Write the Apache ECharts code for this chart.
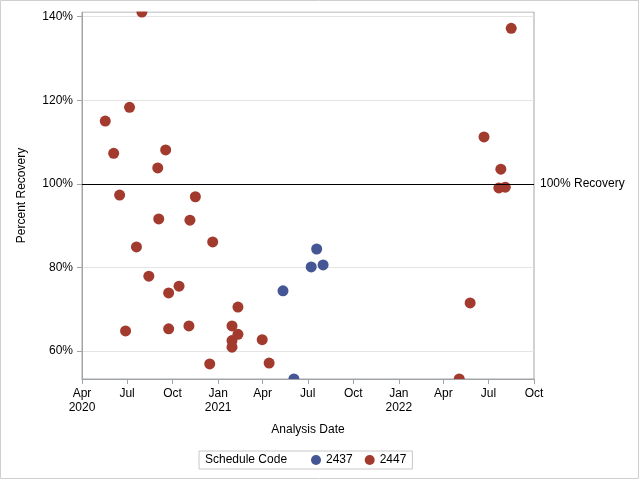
<!DOCTYPE html>
<html>
<head>
<meta charset="utf-8">
<script src="https://cdn.jsdelivr.net/npm/echarts@6/dist/echarts.min.js"></script>
<style>
  html, body { margin: 0; padding: 0; background: #fff; }
  #main { width: 640px; height: 480px; }
</style>
</head>
<body>
<div id="main"></div>
<script>
// schedule code 2437
var dates2437 = ['2021-05-12', '2021-06-03', '2021-07-08', '2021-07-19', '2021-08-01'];
var values2437 = [74.4, 53.3, 80.1, 84.4, 80.6];

// schedule code 2447
var dates2447 = [
  '2020-05-18', '2020-06-04', '2020-06-16', '2020-06-28', '2020-07-06', '2020-07-20',
  '2020-07-31', '2020-08-14', '2020-09-01', '2020-09-03', '2020-09-17', '2020-09-23',
  '2020-09-23', '2020-10-14', '2020-11-03', '2020-11-05', '2020-11-16', '2020-12-15',
  '2020-12-21', '2021-01-29', '2021-01-29', '2021-01-29', '2021-02-10', '2021-02-10',
  '2021-03-31', '2021-04-14', '2022-05-03', '2022-05-25', '2022-06-22', '2022-07-22',
  '2022-07-26', '2022-08-04', '2022-08-16'
];
var values2447 = [
  115.0, 107.3, 97.3, 64.8, 118.3, 84.9,
  141.1, 77.9, 103.8, 91.6, 108.1, 73.9,
  65.3, 75.5, 66.0, 91.3, 96.9, 56.9,
  86.1, 66.0, 62.5, 60.9, 70.5, 64.0,
  62.7, 57.1, 53.3, 71.5, 111.2, 99.0,
  103.5, 99.2, 137.2
];

var xTickDates = ['2020-04-01', '2020-07-01', '2020-10-01', '2021-01-01', '2021-04-01',
  '2021-07-01', '2021-10-01', '2022-01-01', '2022-04-01', '2022-07-01', '2022-10-01'];
var xTickLabels = ['Apr\n2020', 'Jul', 'Oct', 'Jan\n2021', 'Apr', 'Jul', 'Oct',
  'Jan\n2022', 'Apr', 'Jul', 'Oct'];
var yTicks = [60, 80, 100, 120, 140];

function toTime(s) {
  var p = s.split('-').map(Number);
  return new Date(p[0], p[1] - 1, p[2]).getTime();
}
function pairs(ds, vs) {
  return ds.map(function (d, i) { return [toTime(d), vs[i]]; });
}

var xTickTimes = xTickDates.map(toTime);
var axisGray = '#A0A4A8';
var font = 'Liberation Sans, Arial, sans-serif';

var myChart = echarts.init(document.getElementById('main'), null, { renderer: 'canvas' });

myChart.setOption({
  animation: false,
  textStyle: { fontFamily: font },
  grid: {
    left: 82, top: 12, width: 452, height: 367,
    show: true, borderColor: axisGray, borderWidth: 1, backgroundColor: 'transparent'
  },
  graphic: [
    // white bands so markers on the plot edge look cut off like the original
    {
      type: 'rect', z: 5, silent: true,
      shape: { x: 80, y: 1, width: 470, height: 10.5 },
      style: { fill: '#fff' }
    },
    {
      type: 'rect', z: 5, silent: true,
      shape: { x: 84, y: 379.5, width: 449, height: 10 },
      style: { fill: '#fff' }
    },
    {
      type: 'rect', z: 6, shape: { x: 0.5, y: 0.5, width: 638, height: 478 },
      style: { fill: 'none', stroke: '#CFCFCF', lineWidth: 1 }, silent: true
    },
    {
      type: 'text', left: 205, top: 454,
      style: { text: 'Schedule Code', font: '12px ' + font, fill: '#000' }
    }
  ],
  legend: {
    left: 199, top: 451,
    data: ['2437', '2447'],
    icon: 'circle', itemWidth: 10, itemHeight: 10, itemGap: 12,
    borderColor: '#C8C8C8', borderWidth: 1,
    padding: [3, 6, 3, 112],
    textStyle: { fontSize: 12, color: '#000', fontFamily: font }
  },
  xAxis: {
    // dates as timestamps on a linear scale, ticks at quarter starts
    type: 'value', z: 10,
    min: xTickTimes[0], max: xTickTimes[xTickTimes.length - 1],
    name: 'Analysis Date', nameLocation: 'middle', nameGap: 45,
    nameTextStyle: { fontSize: 12, color: '#000' },
    axisLine: { lineStyle: { color: axisGray } },
    axisTick: { show: true, length: 5, lineStyle: { color: axisGray }, customValues: xTickTimes },
    axisLabel: {
      customValues: xTickTimes, margin: 8, color: '#000', fontSize: 12, lineHeight: 14,
      formatter: function (v) {
        var i = xTickTimes.indexOf(v);
        return i >= 0 ? xTickLabels[i] : '';
      }
    },
    splitLine: { show: false }
  },
  yAxis: {
    type: 'value', min: 53.3, max: 141.1,
    name: 'Percent Recovery', nameLocation: 'middle', nameGap: 54,
    nameTextStyle: { fontSize: 12, color: '#000' },
    axisLine: { show: true, lineStyle: { color: axisGray } },
    axisTick: { show: true, length: 5, lineStyle: { color: axisGray }, customValues: yTicks },
    axisLabel: { customValues: yTicks, margin: 9, color: '#000', fontSize: 12, formatter: '{value}%' },
    splitLine: { show: true, lineStyle: { color: '#E4E4E4', width: 1 } }
  },
  series: [
    {
      name: '2437', type: 'scatter', symbolSize: 11,
      itemStyle: { color: '#445694', opacity: 1 },
      data: pairs(dates2437, values2437)
    },
    {
      name: '2447', type: 'scatter', symbolSize: 11,
      itemStyle: { color: '#A23A2E', opacity: 1 },
      data: pairs(dates2447, values2447),
      markLine: {
        silent: true, symbol: 'none',
        lineStyle: { color: '#000', type: 'solid', width: 1 },
        label: { position: 'end', formatter: '100% Recovery', color: '#000', fontSize: 12, distance: 6 },
        data: [{ yAxis: 100 }]
      }
    }
  ]
});
</script>
</body>
</html>
